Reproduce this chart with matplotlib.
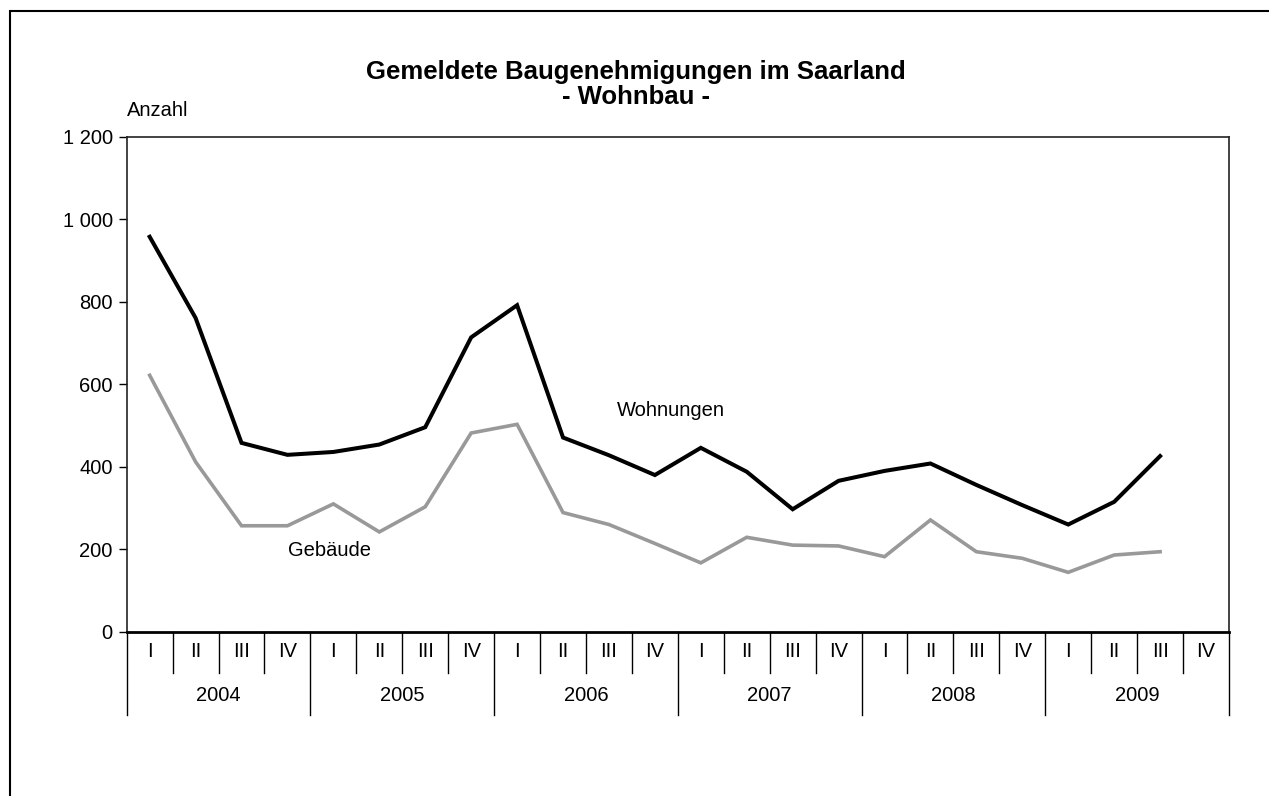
import matplotlib
matplotlib.use('Agg')
import matplotlib.pyplot as plt
from matplotlib.patches import Rectangle

plt.rcParams['font.family'] = ['Liberation Sans', 'DejaVu Sans']

# Data (quarterly, 2004 I .. 2009 III)
years = ['2004', '2005', '2006', '2007', '2008', '2009']
quarters = ['I', 'II', 'III', 'IV']
wohnungen = [958, 761, 458, 429, 436, 454, 496, 714,
             792, 471, 428, 380, 446, 388, 297, 366,
             390, 408, 356, 307, 260, 315, 426]
gebaeude = [622, 412, 257, 257, 310, 242, 303, 482,
            503, 289, 260, 214, 167, 229, 210, 208,
            182, 271, 194, 178, 144, 186, 194]
y_ticks = [0, 200, 400, 600, 800, 1000, 1200]

FS = 14.5

fig = plt.figure(figsize=(12.69, 7.96), dpi=100)
ax = fig.add_axes([126.7 / 1269, 1 - 631.7 / 796, (1229 - 126.7) / 1269, (631.7 - 137) / 796])

# outer frame of the chart (runs off right and bottom edges)
fig.patches.append(Rectangle((9.5 / 1269, -0.1), 1.1, 1.1 - 11 / 796, transform=fig.transFigure,
                             fill=False, edgecolor='black', linewidth=1.5))

n_slots = len(years) * len(quarters)
x_w = [i + 0.5 for i in range(len(wohnungen))]
x_g = [i + 0.5 for i in range(len(gebaeude))]
ax.plot(x_w, wohnungen, color='black', linewidth=2.9, solid_joinstyle='miter')
ax.plot(x_g, gebaeude, color='#999999', linewidth=2.6, solid_joinstyle='miter')

ax.set_xlim(0, n_slots)
ax.set_ylim(0, 1200)
ax.set_yticks(y_ticks)
ax.set_yticklabels([f'{v:,}'.replace(',', ' ') for v in y_ticks], fontsize=FS)
ax.tick_params(axis='y', direction='out', length=6, width=1, pad=4)
ax.set_xticks([])

for side in ['top', 'right', 'left']:
    ax.spines[side].set_linewidth(1.2)
    ax.spines[side].set_color('#222222')
ax.spines['bottom'].set_linewidth(2)

# category axis: quarter and year separators
trans = ax.get_xaxis_transform()
for k in range(n_slots + 1):
    depth = -0.168 if k % 4 == 0 else -0.083
    ax.plot([k, k], [0, depth], transform=trans, color='black', linewidth=1, clip_on=False)
for k in range(n_slots):
    ax.text(k + 0.5, -0.041, quarters[k % 4], transform=trans, ha='center', va='center', fontsize=FS)
for j, yr in enumerate(years):
    ax.text(j * 4 + 2, -0.128, yr, transform=trans, ha='center', va='center', fontsize=FS)

# series labels
ax.text(10.67, 537, 'Wohnungen', fontsize=FS, ha='left', va='center')
ax.text(3.51, 198, 'Gebäude', fontsize=FS, ha='left', va='center')

fig.text(636 / 1269, 1 - 72 / 796, 'Gemeldete Baugenehmigungen im Saarland',
         ha='center', va='center', fontsize=18.5, fontweight='bold')
fig.text(636 / 1269, 1 - 97 / 796, '- Wohnbau -',
         ha='center', va='center', fontsize=18.5, fontweight='bold')
fig.text(127 / 1269, 1 - 110 / 796, 'Anzahl', ha='left', va='center', fontsize=FS)

fig.savefig('out.png', dpi=100)
